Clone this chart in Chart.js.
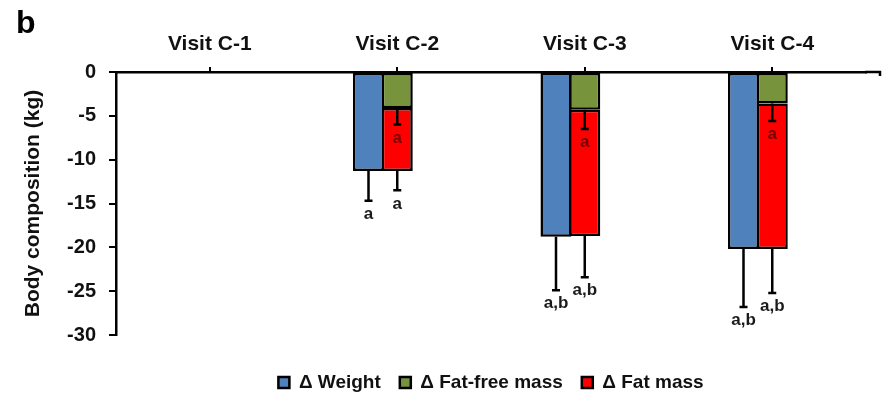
<!DOCTYPE html>
<html>
<head>
<meta charset="utf-8">
<script src="https://cdn.jsdelivr.net/npm/chart.js@4.4.1/dist/chart.umd.min.js"></script>
<style>
    html, body { margin: 0; padding: 0; background: #fff; }
    #wrap { width: 884px; height: 394px; }
</style>
</head>
<body>
<div id="wrap"><canvas id="chart" width="884" height="394"></canvas></div>
<script>
const visits = ["Visit C-1", "Visit C-2", "Visit C-3", "Visit C-4"];

// mean change (kg)
const weight = [null, -11.3, -18.8, -20.2];
const fatFree = [null, -4.1, -4.3, -3.6];
const fatMass = [null, -7.2, -14.4, -16.6];

// SD, drawn downward from bar end
const weightErr = [null, 3.4, 6.1, 6.6];
const fatFreeErr = [null, 1.9, 2.2, 2.0];
const fatMassErr = [null, 2.2, 4.7, 5.0];

// significance letters
const weightSig = ["", "a", "a,b", "a,b"];
const fatFreeSig = ["", "a", "a", "a"];
const fatMassSig = ["", "a", "a,b", "a,b"];

const yTicks = [0, -5, -10, -15, -20, -25, -30];

const FONT = '"Liberation Sans", Arial, sans-serif';

const errorBars = {
    id: "errorBars",
    afterDatasetsDraw(chart) {
        const { ctx, scales: { y } } = chart;
        const unit = y.getPixelForValue(-1) - y.getPixelForValue(0);
        ctx.save();
        ctx.strokeStyle = "#000";
        ctx.lineWidth = 2.5;
        ctx.font = "bold 17px " + FONT;
        ctx.textAlign = "center";
        ctx.textBaseline = "top";
        const sets = [
            [0, weightErr, weightSig, "#1a1a1a"],
            [1, fatFreeErr, fatFreeSig, "#7a0000"],
            [2, fatMassErr, fatMassSig, "#1a1a1a"],
        ];
        sets.forEach(([di, errs, sig, col]) => {
            const meta = chart.getDatasetMeta(di);
            meta.data.forEach((bar, i) => {
                if (errs[i] == null) return;
                const y0 = bar.y;
                const y1 = y0 + errs[i] * unit;
                ctx.beginPath();
                ctx.moveTo(bar.x, y0);
                ctx.lineTo(bar.x, y1);
                ctx.moveTo(bar.x - 4, y1);
                ctx.lineTo(bar.x + 4, y1);
                ctx.stroke();
                ctx.fillStyle = col;
                ctx.fillText(sig[i], bar.x, y1 + 5);
            });
        });
        ctx.restore();
    },
    afterDraw(chart) {
        const { ctx, chartArea } = chart;
        ctx.save();
        // axis line runs on past the last category
        ctx.strokeStyle = "#000";
        ctx.lineWidth = 2.5;
        ctx.beginPath();
        ctx.moveTo(chartArea.right - 1, chartArea.top);
        ctx.lineTo(880, chartArea.top);
        ctx.lineTo(880, chartArea.top + 4);
        ctx.stroke();
        // panel letter
        ctx.fillStyle = "#000";
        ctx.font = "bold 32px " + FONT;
        ctx.textBaseline = "alphabetic";
        ctx.fillText("b", 16, 33);
        ctx.restore();
    },
};

new Chart(document.getElementById("chart"), {
    type: "bar",
    data: {
        labels: visits,
        datasets: [
            {
                label: "\u0394 Weight",
                data: weight,
                stack: "w",
                backgroundColor: "#4F81BD",
            },
            {
                label: "\u0394 Fat-free mass",
                data: fatFree,
                stack: "f",
                backgroundColor: "#77933C",
            },
            {
                label: "\u0394 Fat mass",
                data: fatMass,
                stack: "f",
                backgroundColor: "#FF0000",
            },
            {
                // empty slot so the stacked bar sits on the tick
                label: "",
                data: [null, null, null, null],
                stack: "e",
                backgroundColor: "transparent",
            },
        ].map((d) => ({
            ...d,
            borderColor: "#000",
            borderWidth: 2.5,
            borderSkipped: false,
            barPercentage: 1.08,
            categoryPercentage: 0.46,
        })),
    },
    options: {
        responsive: false,
        animation: false,
        devicePixelRatio: 1,
        layout: { padding: { left: 0, right: 18, top: 0, bottom: 0 } },
        scales: {
            x: {
                position: "top",
                stacked: true,
                afterFit: (s) => { s.height = 72; },
                grid: {
                    offset: false,
                    drawOnChartArea: false,
                    tickLength: 5,
                    color: "#000",
                    lineWidth: 2,
                },
                border: { color: "#000", width: 2.5 },
                ticks: {
                    color: "#111",
                    padding: 10,
                    font: { family: FONT, size: 21, weight: "bold" },
                },
            },
            y: {
                stacked: true,
                min: -30,
                max: 0,
                afterFit: (s) => { s.width = 116; },
                afterBuildTicks: (s) => { s.ticks = yTicks.map((v) => ({ value: v })); },
                grid: {
                    drawOnChartArea: false,
                    tickLength: 7,
                    color: "#000",
                    lineWidth: 2,
                },
                border: { color: "#000", width: 2.5 },
                ticks: {
                    color: "#111",
                    padding: 13,
                    font: { family: FONT, size: 20, weight: "bold" },
                },
                title: {
                    display: true,
                    text: "Body composition (kg)",
                    color: "#111",
                    padding: { top: 21, bottom: 0 },
                    font: { family: FONT, size: 21, weight: "bold" },
                },
            },
        },
        plugins: {
            tooltip: { enabled: false },
            legend: {
                position: "bottom",
                fullSize: false,
                maxHeight: 59,
                title: {
                    display: true,
                    text: " ",
                    padding: 3.5,
                    font: { size: 10 },
                },
                labels: {
                    filter: (item) => item.datasetIndex !== 3,
                    boxWidth: 11,
                    boxHeight: 11,
                    padding: 19,
                    color: "#111",
                    font: { family: FONT, size: 19, weight: "bold" },
                },
            },
        },
    },
    plugins: [errorBars],
});
</script>
</body>
</html>
